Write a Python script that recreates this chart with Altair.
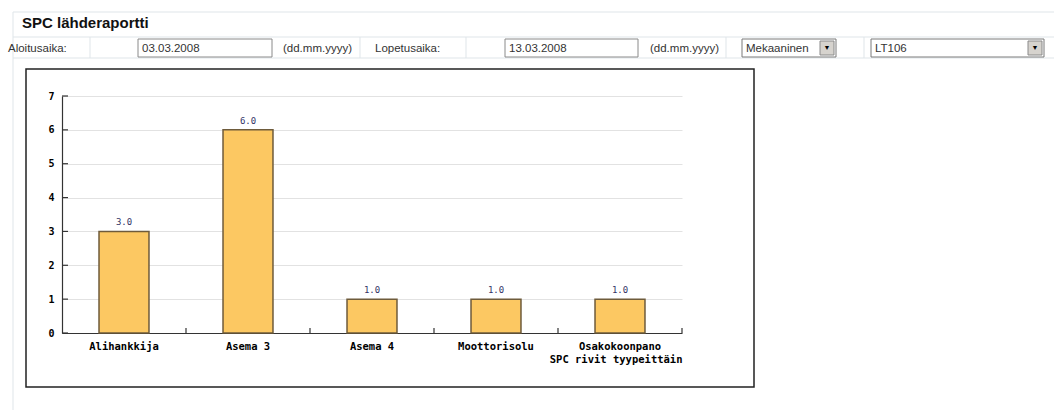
import altair as alt
import pandas as pd

# ---- chart data ----
categories = ["Alihankkija", "Asema 3", "Asema 4", "Moottorisolu", "Osakokoonpano"]
counts = [3.0, 6.0, 1.0, 1.0, 1.0]
y_ticks = [0, 1, 2, 3, 4, 5, 6, 7]

df = pd.DataFrame({"cat": categories, "val": counts})
df["lbl"] = [f"{v:.1f}" for v in counts]
tick_df = pd.DataFrame({"t": y_ticks})
one = pd.DataFrame({"k": [0]})

# plot origin in page pixels
OX, OY = 62, 96
W, H = 620, 237
MONO = "DejaVu Sans Mono"
SANS = "Liberation Sans"

xscale = alt.Scale(domain=categories, paddingInner=0.597, paddingOuter=0.2985)
yscale = alt.Scale(domain=[0, 7], nice=False)

xaxis = alt.Axis(title="SPC rivit tyypeittäin", labelAngle=0, ticks=False,
                 labelPadding=8, labelFont=MONO, labelFontWeight="bold",
                 labelFontSize=10.5, labelColor="black",
                 domainColor="#333333", domainWidth=1.2,
                 titleFont=MONO, titleFontWeight="bold", titleFontSize=10.5,
                 titleColor="black", titleX=W, titleY=26, titleAlign="right",
                 titleBaseline="middle")
yaxis = alt.Axis(title=None, values=y_ticks, ticks=False, labelPadding=8,
                 labelOverlap=False, format="d",
                 labelFont=MONO, labelFontWeight="bold", labelFontSize=10,
                 labelColor="black", domainColor="#333333", domainWidth=1.2,
                 grid=True, gridColor="#e2e2e2", gridWidth=1)


def rect(x1, y1, x2, y2, **kw):
    return alt.Chart(one).mark_rect(**kw).encode(
        x=alt.value(x1 - OX), x2=alt.value(x2 - OX),
        y=alt.value(y1 - OY), y2=alt.value(y2 - OY))


def line(x1, y1, x2, y2, color="#dfe5e9", width=1):
    return alt.Chart(one).mark_rule(color=color, strokeWidth=width).encode(
        x=alt.value(x1 - OX), x2=alt.value(x2 - OX),
        y=alt.value(y1 - OY), y2=alt.value(y2 - OY))


def text(x, y, s, **kw):
    return alt.Chart(one).mark_text(**kw).encode(
        x=alt.value(x - OX), y=alt.value(y - OY), text=alt.value(s))


form_kw = dict(font=SANS, fontSize=11.5, color="#333333", align="left", baseline="alphabetic")

decor = [
    # page frame
    line(13, 12, 1054, 12),
    line(13, 37, 1054, 37),
    line(13, 58, 1054, 58),
    line(13, 12, 13, 410),
    # title
    text(22, 28, "SPC lähderaportti", font=SANS, fontSize=15, fontWeight="bold",
         color="#111111", align="left", baseline="alphabetic"),
    # separators in the form row
    line(90, 37, 90, 58), line(360, 37, 360, 58), line(466, 37, 466, 58),
    line(726, 37, 726, 58), line(864, 37, 864, 58),
    # form row
    text(8, 52, "Aloitusaika:", **form_kw),
    rect(138, 39, 272, 57, fill="white", stroke="#8a8a8a", strokeWidth=1),
    text(142, 52, "03.03.2008", **form_kw),
    text(283, 52, "(dd.mm.yyyy)", **form_kw),
    text(375, 52, "Lopetusaika:", **form_kw),
    rect(505, 39, 638, 57, fill="white", stroke="#8a8a8a", strokeWidth=1),
    text(509, 52, "13.03.2008", **form_kw),
    text(650, 52, "(dd.mm.yyyy)", **form_kw),
    rect(742, 39, 836, 57, fill="white", stroke="#7a7a7a", strokeWidth=1),
    text(746, 52, "Mekaaninen", **form_kw),
    rect(820, 41, 834, 55, fill="#d6d3ce", stroke="#8a8a8a", strokeWidth=1),
    text(827, 48, "▼", font=SANS, fontSize=7, color="black", align="center", baseline="middle"),
    rect(871, 39, 1044, 57, fill="white", stroke="#7a7a7a", strokeWidth=1),
    text(875, 52, "LT106", **form_kw),
    rect(1028, 41, 1042, 55, fill="#d6d3ce", stroke="#8a8a8a", strokeWidth=1),
    text(1035, 48, "▼", font=SANS, fontSize=7, color="black", align="center", baseline="middle"),
    # chart frame (no fill so the axes beneath stay visible)
    rect(26, 69, 754, 387, fillOpacity=0, stroke="#222222", strokeWidth=1.5),
]

bars = alt.Chart(df).mark_bar(
    fill="#FCC862", stroke="#6E5B3B", strokeWidth=1.5
).encode(
    x=alt.X("cat:N", scale=xscale, sort=categories, axis=xaxis),
    y=alt.Y("val:Q", scale=yscale, axis=yaxis),
)

values = alt.Chart(df).mark_text(
    font=MONO, fontSize=9, color="#333366", dy=-9, baseline="middle"
).encode(
    x=alt.X("cat:N", scale=xscale, sort=categories, axis=xaxis),
    y=alt.Y("val:Q", scale=yscale, axis=yaxis),
    text="lbl:N",
)

xticks = alt.Chart(df).mark_rule(color="#333333", strokeWidth=1.2, xOffset=62).encode(
    x=alt.X("cat:N", scale=xscale, sort=categories, axis=xaxis),
    y=alt.value(H - 5), y2=alt.value(H),
)

yticks = alt.Chart(tick_df).mark_rule(color="#333333", strokeWidth=1.2).encode(
    y=alt.Y("t:Q", scale=yscale, axis=yaxis),
    x=alt.value(0), x2=alt.value(6),
)

chart = alt.layer(*decor, bars, values, xticks, yticks).properties(
    width=W, height=H,
    padding={"left": OX, "top": OY, "right": 1062 - OX - W, "bottom": 410 - OY - H},
    autosize=alt.AutoSizeParams(type="none"),
    background="white",
).configure_view(stroke=None)

chart.save("out.html", embed_options={"renderer": "svg", "actions": False})
